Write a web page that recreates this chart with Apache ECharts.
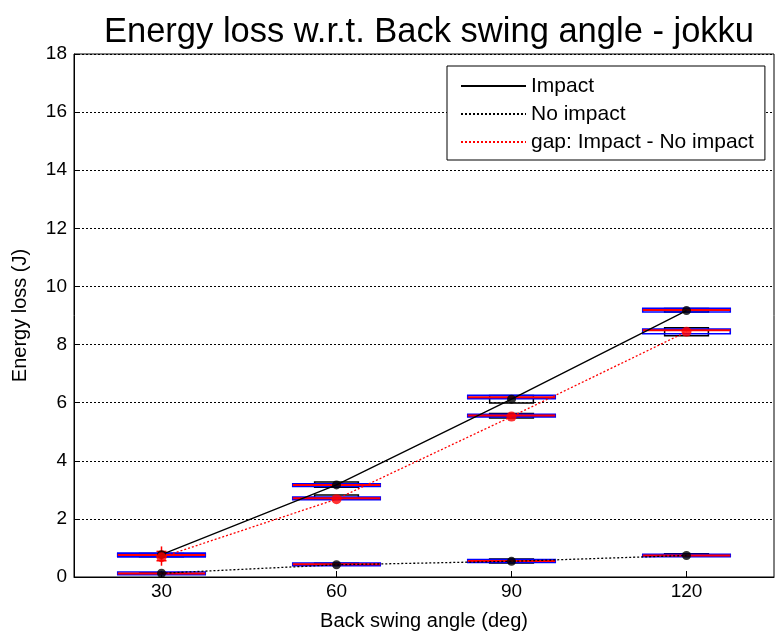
<!DOCTYPE html>
<html>
<head>
<meta charset="utf-8">
<script src="https://cdn.jsdelivr.net/npm/echarts@6/dist/echarts.min.js"></script>
<style>
html,body{margin:0;padding:0;background:#fff;}
#chart{width:775px;height:641px;}
</style>
</head>
<body>
<div id="chart"></div>
<script>
// ---- data ----
const categories = ['30', '60', '90', '120'];
const yTicks = [0, 2, 4, 6, 8, 10, 12, 14, 16, 18];

// mean values (lines + dots)
const impact   = [0.77, 3.17, 6.12, 9.17];
const noImpact = [0.13, 0.42, 0.54, 0.74];
const gap      = [0.68, 2.68, 5.52, 8.44];

// wide boxes (blue box, red median): low, median, high
const impactWideLow  = [0.70, 3.12, 6.14, 9.12];
const impactWideMed  = [0.77, 3.17, 6.19, 9.19];
const impactWideHigh = [0.82, 3.21, 6.25, 9.25];
const gapWideLow     = [0.70, 2.66, 5.51, 8.37];
const gapWideMed     = [0.76, 2.71, 5.56, 8.49];
const gapWideHigh    = [0.80, 2.75, 5.60, 8.53];
const noImpWideLow   = [0.08, 0.39, 0.50, 0.70];
const noImpWideMed   = [0.12, 0.44, 0.55, 0.74];
const noImpWideHigh  = [0.17, 0.48, 0.60, 0.78];

// narrow black boxes: low, high
const impactNarrowLow  = [0.73, 3.09, 5.99, 9.12];
const impactNarrowHigh = [0.81, 3.27, 6.25, 9.24];
const gapNarrowLow     = [0.70, 2.70, 5.47, 8.30];
const gapNarrowHigh    = [0.76, 2.82, 5.63, 8.58];
const noImpNarrowLow   = [0.10, 0.41, 0.48, 0.72];
const noImpNarrowHigh  = [0.15, 0.47, 0.62, 0.80];

// outliers ('+' markers) of the gap at 30 deg
const gapOutlierCat = [0, 0, 0];
const gapOutlierVal = [0.56, 0.70, 0.88];

// ---- build ----
function wideData(lo, med, hi) {
  return categories.map((c, i) => [i, lo[i], med[i], hi[i]]);
}
function narrowData(lo, hi) {
  return categories.map((c, i) => [i, lo[i], hi[i]]);
}

function renderWide(params, api) {
  const i = api.value(0);
  const band = api.size([1, 0])[0];
  const hw = band * 0.25;
  const cx = api.coord([i, api.value(2)])[0];
  const yl = api.coord([i, api.value(1)])[1];
  const ym = api.coord([i, api.value(2)])[1];
  const yh = api.coord([i, api.value(3)])[1];
  return {
    type: 'group',
    children: [
      { type: 'rect', shape: { x: cx - hw, y: yh, width: 2 * hw, height: Math.max(yl - yh, 1) },
        style: { fill: 'none', stroke: '#0000ff', lineWidth: 1.6 } },
      { type: 'line', shape: { x1: cx - hw, y1: ym, x2: cx + hw, y2: ym },
        style: { stroke: '#ff0000', lineWidth: 2 } }
    ]
  };
}
function renderNarrow(params, api) {
  const i = api.value(0);
  const band = api.size([1, 0])[0];
  const hw = band * 0.125;
  const cx = api.coord([i, api.value(1)])[0];
  const yl = api.coord([i, api.value(1)])[1];
  const yh = api.coord([i, api.value(2)])[1];
  return {
    type: 'rect', shape: { x: cx - hw, y: yh, width: 2 * hw, height: Math.max(yl - yh, 1) },
    style: { fill: 'none', stroke: '#000000', lineWidth: 1.5 }
  };
}
function renderPlus(params, api) {
  const p = api.coord([api.value(0), api.value(1)]);
  const s = 5;
  return {
    type: 'group',
    children: [
      { type: 'line', shape: { x1: p[0] - s, y1: p[1], x2: p[0] + s, y2: p[1] }, style: { stroke: '#ff0000', lineWidth: 1.5 } },
      { type: 'line', shape: { x1: p[0], y1: p[1] - s, x2: p[0], y2: p[1] + s }, style: { stroke: '#ff0000', lineWidth: 1.5 } }
    ]
  };
}

const FONT = 'Liberation Sans, Arial, sans-serif';

const option = {
  animation: false,
  backgroundColor: '#ffffff',
  title: {
    text: 'Energy loss w.r.t. Back swing angle - jokku',
    left: 424, textAlign: 'center', top: 10,
    textStyle: { fontFamily: FONT, fontSize: 34.5, fontWeight: 'normal', color: '#000' }
  },
  legend: {
    orient: 'vertical',
    left: 447, top: 66,
    padding: [9, 11, 7, 13],
    itemWidth: 65, itemHeight: 14, itemGap: 6,
    itemStyle: { opacity: 0 },
    borderColor: '#000', borderWidth: 1, backgroundColor: '#fff',
    textStyle: { fontFamily: FONT, fontSize: 21, color: '#000', lineHeight: 22 },
    data: ['Impact', 'No impact', 'gap: Impact - No impact']
  },
  grid: {
    left: 74, right: 1, top: 54, bottom: 64,
    show: true, borderColor: '#000', borderWidth: 1, backgroundColor: '#fff'
  },
  xAxis: {
    type: 'category',
    data: categories,
    boundaryGap: true,
    name: 'Back swing angle (deg)',
    nameLocation: 'middle', nameGap: 34,
    nameTextStyle: { fontFamily: FONT, fontSize: 20, color: '#000' },
    axisLine: { lineStyle: { color: '#000', width: 1 } },
    axisTick: { show: true, inside: true, alignWithLabel: true, length: 6, lineStyle: { color: '#000' } },
    axisLabel: { fontFamily: FONT, fontSize: 19, color: '#000', margin: 5 },
    splitLine: { show: false }
  },
  yAxis: {
    type: 'value',
    min: 0, max: 18, interval: 2,
    name: 'Energy loss (J)',
    nameLocation: 'middle', nameGap: 44,
    nameTextStyle: { fontFamily: FONT, fontSize: 20, color: '#000' },
    axisLine: { show: true, lineStyle: { color: '#000', width: 1 } },
    axisTick: { show: true, inside: true, length: 6, lineStyle: { color: '#000' } },
    axisLabel: { fontFamily: FONT, fontSize: 19, color: '#000', margin: 7,
      customValues: yTicks },
    splitLine: { show: true, lineStyle: { color: '#000', type: [2, 2], width: 1 } }
  },
  series: [
    { name: 'nb-impact', type: 'custom', renderItem: renderNarrow, data: narrowData(impactNarrowLow, impactNarrowHigh), z: 2, silent: true },
    { name: 'nb-gap', type: 'custom', renderItem: renderNarrow, data: narrowData(gapNarrowLow, gapNarrowHigh), z: 2, silent: true },
    { name: 'nb-noimp', type: 'custom', renderItem: renderNarrow, data: narrowData(noImpNarrowLow, noImpNarrowHigh), z: 2, silent: true },
    { name: 'wb-impact', type: 'custom', renderItem: renderWide, data: wideData(impactWideLow, impactWideMed, impactWideHigh), z: 3, silent: true },
    { name: 'wb-gap', type: 'custom', renderItem: renderWide, data: wideData(gapWideLow, gapWideMed, gapWideHigh), z: 3, silent: true },
    { name: 'wb-noimp', type: 'custom', renderItem: renderWide, data: wideData(noImpWideLow, noImpWideMed, noImpWideHigh), z: 3, silent: true },
    { name: 'outliers', type: 'custom', renderItem: renderPlus, data: gapOutlierCat.map((c, i) => [c, gapOutlierVal[i]]), z: 4, silent: true },
    { name: 'Impact', type: 'line', data: impact, symbol: 'none', z: 5,
      lineStyle: { color: '#000', width: 1.3, type: 'solid' }, itemStyle: { color: '#000' } },
    { name: 'No impact', type: 'line', data: noImpact, symbol: 'none', z: 5,
      lineStyle: { color: '#000', width: 1.3, type: [2, 2] }, itemStyle: { color: '#000' } },
    { name: 'gap: Impact - No impact', type: 'line', data: gap, symbol: 'none', z: 5,
      lineStyle: { color: '#ff0000', width: 1.3, type: [2, 2] }, itemStyle: { color: '#ff0000' } },
    { name: 'dots-impact', type: 'scatter', data: impact, symbol: 'circle', symbolSize: 9, z: 6,
      itemStyle: { color: '#000' } },
    { name: 'dots-noimp', type: 'scatter', data: noImpact, symbol: 'circle', symbolSize: 9, z: 6,
      itemStyle: { color: '#000' } },
    { name: 'dots-gap', type: 'scatter', data: gap, symbol: 'circle', symbolSize: 10, z: 6,
      itemStyle: { color: '#ff0000' } }
  ]
};

const chart = echarts.init(document.getElementById('chart'), null, { renderer: 'canvas' });
chart.setOption(option);
</script>
</body>
</html>
